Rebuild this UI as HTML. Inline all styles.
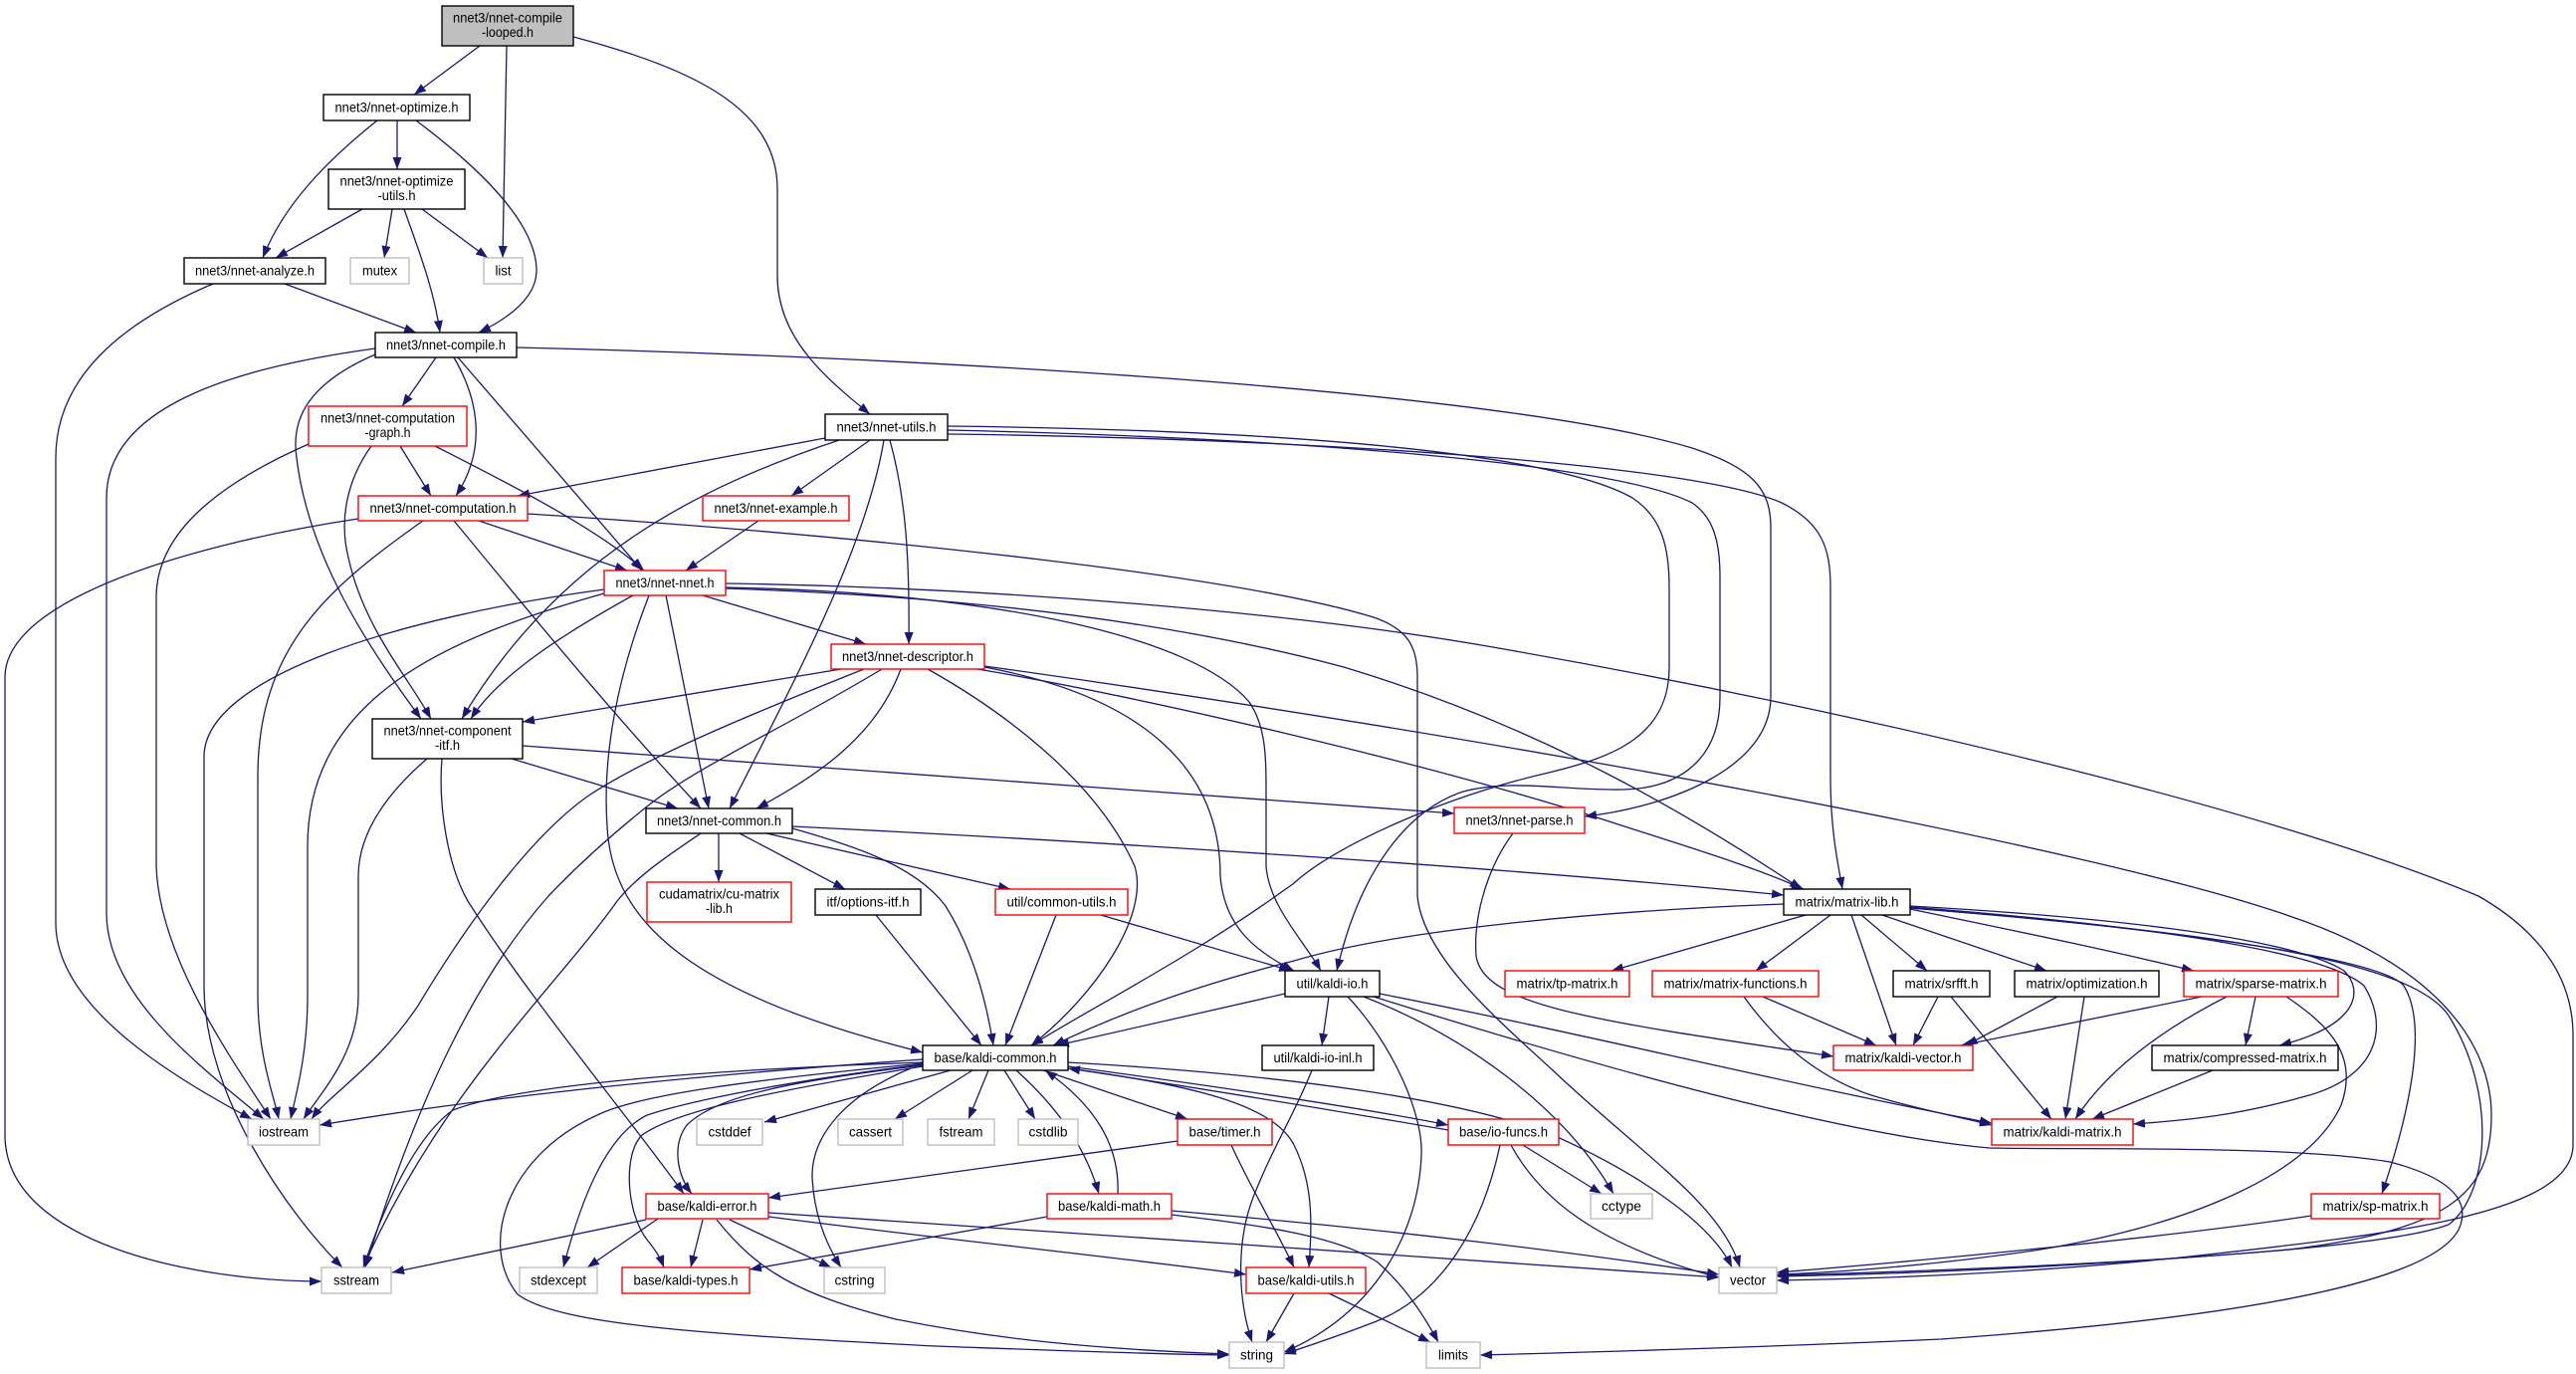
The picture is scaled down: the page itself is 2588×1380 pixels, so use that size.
<!DOCTYPE html>
<html><head><meta charset="utf-8"><title>nnet-compile-looped.h include graph</title>
<style>
html,body{margin:0;padding:0;background:#fff;}
svg{display:block;}
text{font-family:"Liberation Sans",Helvetica,Arial,sans-serif;font-size:14px;fill:#000;}
.e{fill:none;stroke:#191970;stroke-width:1.3;marker-end:url(#ah);}
.nb{fill:#fff;stroke:#000;stroke-width:1.4;}
.nr{fill:#fff;stroke:#ff0000;stroke-width:1.4;}
.ng{fill:#fff;stroke:#bfbfbf;stroke-width:1.4;}
.nroot{fill:#bfbfbf;stroke:#000;stroke-width:1.4;}
</style></head>
<body>
<svg width="2588" height="1380" viewBox="0 0 2588 1380" xmlns="http://www.w3.org/2000/svg">
<defs>
<marker id="ah" viewBox="0 0 12 9" refX="12" refY="4.5" markerWidth="12" markerHeight="9" markerUnits="userSpaceOnUse" orient="auto">
<path d="M0,0 L12,4.5 L0,9 z" fill="#191970"/>
</marker>
</defs>
<rect x="0" y="0" width="2588" height="1380" fill="#fff"/>

<!-- EDGES -->
<g>
<path class="e" d="M482,46 L416,95"/>
<path class="e" d="M509,46 L505,259"/>
<path class="e" d="M576,37 C700,70 781,110 781,190 L781,277 C781,340 830,380 874,416"/>
<path class="e" d="M399,121 L399,170"/>
<path class="e" d="M379,121 C330,160 285,205 264,259"/>
<path class="e" d="M418,121 C470,160 540,220 539,273 C538,300 510,320 481,334"/>
<path class="e" d="M364,210 L277,259"/>
<path class="e" d="M394,210 L386,259"/>
<path class="e" d="M424,210 L490,259"/>
<path class="e" d="M406,210 C420,250 436,290 442,334"/>
<path class="e" d="M286,285 L418,334"/>
<path class="e" d="M214,285 C120,325 56,380 56,460 L56,927 C56,1010 170,1080 253,1124"/>
<path class="e" d="M438,359 L404,408"/>
<path class="e" d="M456,359 C480,400 490,450 458,498"/>
<path class="e" d="M460,359 L645,573"/>
<path class="e" d="M377,356 C310,385 292,420 298,460 C310,560 370,650 423,722"/>
<path class="e" d="M377,350 C230,370 107,410 107,500 L107,917 C107,1000 200,1070 265,1124"/>
<path class="e" d="M519,349 C900,358 1500,390 1700,450 C1760,470 1779,490 1779,530 L1779,700 C1779,770 1680,810 1592,820"/>
<path class="e" d="M402,448 L433,498"/>
<path class="e" d="M437,448 C500,480 600,530 647,573"/>
<path class="e" d="M373,448 C350,480 340,520 350,560 C365,630 410,680 433,722"/>
<path class="e" d="M310,446 C210,490 157,540 157,600 L157,870 C160,960 230,1060 272,1124"/>
<path class="e" d="M829,440 L520,498"/>
<path class="e" d="M843,442 C700,490 560,560 464,722"/>
<path class="e" d="M874,442 L795,498"/>
<path class="e" d="M888,442 C870,550 800,680 733,812"/>
<path class="e" d="M894,442 C910,500 914,560 913,647"/>
<path class="e" d="M952,428 C1300,432 1560,455 1640,500 C1670,520 1677,550 1677,590 L1677,670 C1677,740 1620,760 1560,775 C1450,800 1340,850 1300,887 C1200,960 1100,1010 1036,1050"/>
<path class="e" d="M952,432 C1300,440 1620,465 1700,505 C1722,520 1728,545 1728,580 L1728,700 C1728,760 1690,792 1630,793 C1570,794 1520,782 1470,795 C1410,815 1365,880 1343,975"/>
<path class="e" d="M952,436 C1300,440 1700,465 1790,505 C1830,525 1839,550 1839,590 L1839,780 C1839,830 1845,860 1851,893"/>
<path class="e" d="M481,523 L630,573"/>
<path class="e" d="M456,523 C520,600 600,700 704,812"/>
<path class="e" d="M425,523 C330,590 259,650 259,780 L259,1000 C259,1060 275,1100 280,1124"/>
<path class="e" d="M360,521 C200,545 5,600 5,680 L5,1140 C5,1250 200,1287 323,1287"/>
<path class="e" d="M530,516 C900,540 1250,580 1380,620 C1415,632 1424,650 1424,680 L1424,900 C1430,960 1500,1020 1560,1075 C1650,1160 1730,1210 1748,1273"/>
<path class="e" d="M762,523 L689,573"/>
<path class="e" d="M706,598 L870,647"/>
<path class="e" d="M669,598 L712,812"/>
<path class="e" d="M636,598 C560,640 500,680 473,722"/>
<path class="e" d="M607,596 C450,640 309,700 309,850 L309,1000 C309,1060 297,1100 292,1124"/>
<path class="e" d="M607,592 C400,620 205,680 205,760 L205,990 C205,1100 290,1220 344,1273"/>
<path class="e" d="M652,598 C620,680 605,760 610,830 C615,930 700,1000 927,1057"/>
<path class="e" d="M729,590 C1000,595 1200,640 1255,705 C1272,730 1272,760 1272,800 L1272,870 C1275,910 1310,945 1327,975"/>
<path class="e" d="M729,591 C1000,600 1200,630 1350,670 C1550,730 1700,820 1810,893"/>
<path class="e" d="M729,586 C1000,590 1300,615 1500,650 C1900,720 2300,820 2490,900 C2560,940 2585,990 2585,1040 L2585,1150 C2585,1220 2400,1240 2200,1262 C2050,1278 1900,1284 1785,1286"/>
<path class="e" d="M845,672 L525,725"/>
<path class="e" d="M868,672 C760,715 650,760 590,800 C520,850 450,960 420,1010 C380,1070 330,1100 313,1124"/>
<path class="e" d="M886,672 C790,730 700,770 650,810 C600,850 570,880 551,900 C480,980 420,1100 367,1273"/>
<path class="e" d="M905,672 C880,740 820,780 760,812"/>
<path class="e" d="M932,672 C1000,710 1100,780 1140,870 C1155,920 1100,1000 1036,1050"/>
<path class="e" d="M989,670 C1150,700 1226,773 1226,880 C1230,930 1260,955 1300,975"/>
<path class="e" d="M982,672 C1150,700 1450,770 1632,830 C1700,852 1760,870 1812,893"/>
<path class="e" d="M989,669 C1500,740 2100,850 2300,920 C2450,970 2503,1050 2503,1120 C2503,1200 2460,1235 2300,1255 C2100,1272 1900,1280 1785,1282"/>
<path class="e" d="M514,762 L681,812"/>
<path class="e" d="M525,749 C900,775 1200,800 1461,817"/>
<path class="e" d="M429,762 C385,800 360,840 360,880 L360,1000 C360,1060 320,1100 305,1124"/>
<path class="e" d="M444,762 C440,810 450,870 470,905 C530,1000 630,1120 687,1199"/>
<path class="e" d="M722,837 L722,886"/>
<path class="e" d="M743,837 L849,893"/>
<path class="e" d="M770,837 L1015,893"/>
<path class="e" d="M796,830 C1100,845 1500,870 1792,899"/>
<path class="e" d="M796,832 C860,850 920,870 950,910 C975,950 990,1000 998,1050"/>
<path class="e" d="M704,837 C670,860 640,880 620,905 C560,990 440,1100 365,1273"/>
<path class="e" d="M880,919 L986,1050"/>
<path class="e" d="M1061,919 L1010,1050"/>
<path class="e" d="M1106,919 L1297,975"/>
<path class="e" d="M1520,837 C1495,870 1480,920 1483,960 C1490,1010 1600,1025 1842,1061"/>
<path class="e" d="M1792,908 C1600,915 1400,935 1300,965 C1200,990 1120,1020 1058,1050"/>
<path class="e" d="M1814,919 L1619,975"/>
<path class="e" d="M1839,919 L1764,975"/>
<path class="e" d="M1860,919 L1905,1050"/>
<path class="e" d="M1870,919 L1936,975"/>
<path class="e" d="M1891,919 L2056,975"/>
<path class="e" d="M1919,913 C2000,930 2100,950 2204,975"/>
<path class="e" d="M1919,910 C2100,920 2300,940 2355,975 C2375,995 2370,1030 2290,1050"/>
<path class="e" d="M1919,911 C2100,925 2330,950 2375,990 C2400,1030 2390,1080 2320,1100 C2250,1120 2200,1125 2143,1129"/>
<path class="e" d="M1919,912 C2150,930 2390,960 2415,990 C2440,1030 2420,1120 2393,1199"/>
<path class="e" d="M1919,912 C2200,935 2420,960 2460,1020 C2510,1100 2500,1200 2460,1230 C2380,1260 2000,1275 1785,1281"/>
<path class="e" d="M1771,1001 L1885,1050"/>
<path class="e" d="M1752,1001 C1780,1040 1820,1080 1880,1100 C1930,1115 1970,1122 2001,1130"/>
<path class="e" d="M1947,1001 L1922,1050"/>
<path class="e" d="M1960,1001 L2061,1124"/>
<path class="e" d="M2067,1001 L1975,1050"/>
<path class="e" d="M2094,1001 L2075,1124"/>
<path class="e" d="M2212,1001 L1970,1050"/>
<path class="e" d="M2237,1001 C2180,1030 2120,1070 2085,1124"/>
<path class="e" d="M2266,1001 L2256,1050"/>
<path class="e" d="M2297,1001 C2340,1030 2370,1060 2352,1110 C2320,1180 2200,1230 2050,1255 C1950,1270 1850,1278 1785,1280"/>
<path class="e" d="M2223,1075 L2102,1124"/>
<path class="e" d="M2322,1221 C2200,1240 1950,1265 1785,1278"/>
<path class="e" d="M955,1075 L768,1127"/>
<path class="e" d="M977,1075 L899,1124"/>
<path class="e" d="M993,1075 L973,1124"/>
<path class="e" d="M1009,1075 L1040,1124"/>
<path class="e" d="M1048,1075 L1193,1124"/>
<path class="e" d="M1021,1075 C1060,1110 1090,1150 1104,1199"/>
<path class="e" d="M1123,1199 C1125,1150 1100,1110 1050,1075"/>
<path class="e" d="M915,1073 C850,1100 815,1140 816,1183 C818,1220 830,1250 845,1273"/>
<path class="e" d="M927,1070 C800,1085 720,1100 690,1130 C675,1150 680,1180 695,1199"/>
<path class="e" d="M927,1064 C700,1080 500,1100 321,1130"/>
<path class="e" d="M927,1067 C700,1075 520,1090 455,1115 C420,1140 390,1200 365,1273"/>
<path class="e" d="M927,1068 C750,1085 640,1100 600,1120 C510,1160 480,1250 520,1300 C560,1330 700,1340 940,1352 C1050,1356 1150,1360 1235,1361"/>
<path class="e" d="M927,1069 C760,1090 680,1110 650,1120 C610,1140 585,1200 566,1273"/>
<path class="e" d="M927,1071 C780,1095 680,1115 645,1140 C625,1160 630,1220 650,1245 C658,1255 663,1262 667,1273"/>
<path class="e" d="M1073,1067 C1300,1080 1470,1105 1560,1140 C1650,1180 1720,1230 1740,1273"/>
<path class="e" d="M1073,1071 C1250,1095 1380,1115 1455,1130"/>
<path class="e" d="M1455,1135 C1350,1117 1200,1092 1073,1073"/>
<path class="e" d="M1073,1073 C1200,1090 1280,1110 1300,1150 C1320,1190 1318,1230 1315,1273"/>
<path class="e" d="M1183,1146 L772,1203"/>
<path class="e" d="M1237,1150 C1260,1200 1285,1240 1300,1273"/>
<path class="e" d="M1530,1150 L1609,1199"/>
<path class="e" d="M1518,1150 C1545,1200 1600,1250 1727,1283"/>
<path class="e" d="M1507,1150 C1490,1230 1450,1300 1383,1327 C1350,1340 1320,1350 1290,1360"/>
<path class="e" d="M1291,998 L1062,1050"/>
<path class="e" d="M1335,1001 L1328,1050"/>
<path class="e" d="M1354,1001 C1400,1050 1430,1120 1428,1160 C1425,1240 1380,1320 1290,1358"/>
<path class="e" d="M1370,1001 C1470,1040 1570,1110 1621,1199"/>
<path class="e" d="M1386,998 C1600,1040 1800,1090 2001,1128"/>
<path class="e" d="M1380,1001 C1600,1070 1850,1140 1999,1153 C2100,1155 2300,1150 2401,1167 C2470,1185 2480,1210 2471,1233 C2450,1280 2300,1320 1950,1345 C1800,1352 1600,1358 1487,1361"/>
<path class="e" d="M1318,1075 C1300,1120 1280,1150 1260,1200 C1240,1250 1245,1310 1258,1348"/>
<path class="e" d="M649,1225 L394,1278"/>
<path class="e" d="M661,1224 L590,1273"/>
<path class="e" d="M706,1225 L694,1273"/>
<path class="e" d="M733,1225 L835,1273"/>
<path class="e" d="M720,1225 C760,1275 800,1300 900,1325 C1000,1345 1100,1355 1235,1360"/>
<path class="e" d="M772,1222 C950,1245 1100,1260 1252,1280"/>
<path class="e" d="M772,1218 C1100,1240 1400,1260 1727,1283"/>
<path class="e" d="M1052,1222 L753,1275"/>
<path class="e" d="M1177,1216 C1400,1235 1600,1260 1727,1280"/>
<path class="e" d="M1177,1220 C1260,1230 1340,1240 1383,1267 C1410,1290 1430,1320 1445,1348"/>
<path class="e" d="M1300,1299 L1272,1348"/>
<path class="e" d="M1335,1299 L1437,1348"/>
</g>

<!-- NODES -->
<g>
<rect class="nroot" x="444" y="6" width="132" height="40"/>
<text x="510" y="22.5" text-anchor="middle" textLength="110" lengthAdjust="spacingAndGlyphs">nnet3/nnet-compile</text>
<text x="510" y="37" text-anchor="middle" textLength="52" lengthAdjust="spacingAndGlyphs">-looped.h</text>

<rect class="nb" x="325" y="95" width="147" height="26"/>
<text x="398.5" y="112.5" text-anchor="middle" textLength="124" lengthAdjust="spacingAndGlyphs">nnet3/nnet-optimize.h</text>

<rect class="nb" x="330" y="170" width="137" height="40"/>
<text x="398.5" y="186.5" text-anchor="middle" textLength="114" lengthAdjust="spacingAndGlyphs">nnet3/nnet-optimize</text>
<text x="398.5" y="201" text-anchor="middle" textLength="38" lengthAdjust="spacingAndGlyphs">-utils.h</text>

<rect class="nb" x="185" y="259" width="142" height="26"/>
<text x="256" y="276.5" text-anchor="middle" textLength="120" lengthAdjust="spacingAndGlyphs">nnet3/nnet-analyze.h</text>

<rect class="ng" x="352" y="259" width="59" height="26"/>
<text x="381.5" y="276.5" text-anchor="middle" textLength="35" lengthAdjust="spacingAndGlyphs">mutex</text>

<rect class="ng" x="486" y="259" width="39" height="26"/>
<text x="505.5" y="276.5" text-anchor="middle" textLength="16" lengthAdjust="spacingAndGlyphs">list</text>

<rect class="nb" x="377" y="334" width="142" height="25"/>
<text x="448" y="351" text-anchor="middle" textLength="120" lengthAdjust="spacingAndGlyphs">nnet3/nnet-compile.h</text>

<rect class="nr" x="310" y="408" width="159" height="40"/>
<text x="389.5" y="424.5" text-anchor="middle" textLength="135" lengthAdjust="spacingAndGlyphs">nnet3/nnet-computation</text>
<text x="389.5" y="439" text-anchor="middle" textLength="46" lengthAdjust="spacingAndGlyphs">-graph.h</text>

<rect class="nb" x="829" y="416" width="123" height="26"/>
<text x="890.5" y="433.5" text-anchor="middle" textLength="100" lengthAdjust="spacingAndGlyphs">nnet3/nnet-utils.h</text>

<rect class="nr" x="360" y="498" width="170" height="25"/>
<text x="445" y="515" text-anchor="middle" textLength="147" lengthAdjust="spacingAndGlyphs">nnet3/nnet-computation.h</text>

<rect class="nr" x="706" y="498" width="147" height="25"/>
<text x="779.5" y="515" text-anchor="middle" textLength="124" lengthAdjust="spacingAndGlyphs">nnet3/nnet-example.h</text>

<rect class="nr" x="607" y="573" width="122" height="25"/>
<text x="668" y="590" text-anchor="middle" textLength="99" lengthAdjust="spacingAndGlyphs">nnet3/nnet-nnet.h</text>

<rect class="nr" x="835" y="647" width="154" height="25"/>
<text x="912" y="664" text-anchor="middle" textLength="132" lengthAdjust="spacingAndGlyphs">nnet3/nnet-descriptor.h</text>

<rect class="nb" x="374" y="722" width="151" height="40"/>
<text x="449.5" y="738.5" text-anchor="middle" textLength="128" lengthAdjust="spacingAndGlyphs">nnet3/nnet-component</text>
<text x="449.5" y="753" text-anchor="middle" textLength="25" lengthAdjust="spacingAndGlyphs">-itf.h</text>

<rect class="nb" x="649" y="812" width="147" height="25"/>
<text x="722.5" y="829" text-anchor="middle" textLength="125" lengthAdjust="spacingAndGlyphs">nnet3/nnet-common.h</text>

<rect class="nr" x="1461" y="811" width="131" height="26"/>
<text x="1526.5" y="828.5" text-anchor="middle" textLength="108" lengthAdjust="spacingAndGlyphs">nnet3/nnet-parse.h</text>

<rect class="nr" x="650" y="886" width="145" height="40"/>
<text x="722.5" y="902.5" text-anchor="middle" textLength="121" lengthAdjust="spacingAndGlyphs">cudamatrix/cu-matrix</text>
<text x="722.5" y="917" text-anchor="middle" textLength="27" lengthAdjust="spacingAndGlyphs">-lib.h</text>

<rect class="nb" x="819" y="893" width="106" height="26"/>
<text x="872" y="910.5" text-anchor="middle" textLength="83" lengthAdjust="spacingAndGlyphs">itf/options-itf.h</text>

<rect class="nr" x="1000" y="893" width="133" height="26"/>
<text x="1066.5" y="910.5" text-anchor="middle" textLength="110" lengthAdjust="spacingAndGlyphs">util/common-utils.h</text>

<rect class="nb" x="1792" y="893" width="127" height="26"/>
<text x="1855.5" y="910.5" text-anchor="middle" textLength="104" lengthAdjust="spacingAndGlyphs">matrix/matrix-lib.h</text>

<rect class="nb" x="1291" y="975" width="95" height="26"/>
<text x="1338.5" y="992.5" text-anchor="middle" textLength="72" lengthAdjust="spacingAndGlyphs">util/kaldi-io.h</text>

<rect class="nr" x="1512" y="975" width="125" height="26"/>
<text x="1574.5" y="992.5" text-anchor="middle" textLength="102" lengthAdjust="spacingAndGlyphs">matrix/tp-matrix.h</text>

<rect class="nr" x="1660" y="975" width="167" height="26"/>
<text x="1743.5" y="992.5" text-anchor="middle" textLength="144" lengthAdjust="spacingAndGlyphs">matrix/matrix-functions.h</text>

<rect class="nb" x="1902" y="975" width="97" height="26"/>
<text x="1950.5" y="992.5" text-anchor="middle" textLength="74" lengthAdjust="spacingAndGlyphs">matrix/srfft.h</text>

<rect class="nb" x="2024" y="975" width="145" height="26"/>
<text x="2096.5" y="992.5" text-anchor="middle" textLength="122" lengthAdjust="spacingAndGlyphs">matrix/optimization.h</text>

<rect class="nr" x="2194" y="975" width="155" height="26"/>
<text x="2271.5" y="992.5" text-anchor="middle" textLength="132" lengthAdjust="spacingAndGlyphs">matrix/sparse-matrix.h</text>

<rect class="nb" x="927" y="1050" width="146" height="25"/>
<text x="1000" y="1067" text-anchor="middle" textLength="123" lengthAdjust="spacingAndGlyphs">base/kaldi-common.h</text>

<rect class="nb" x="1268" y="1050" width="112" height="25"/>
<text x="1324" y="1067" text-anchor="middle" textLength="89" lengthAdjust="spacingAndGlyphs">util/kaldi-io-inl.h</text>

<rect class="nr" x="1842" y="1050" width="140" height="25"/>
<text x="1912" y="1067" text-anchor="middle" textLength="117" lengthAdjust="spacingAndGlyphs">matrix/kaldi-vector.h</text>

<rect class="nb" x="2162" y="1050" width="187" height="25"/>
<text x="2255.5" y="1067" text-anchor="middle" textLength="164" lengthAdjust="spacingAndGlyphs">matrix/compressed-matrix.h</text>

<rect class="ng" x="249" y="1124" width="72" height="26"/>
<text x="285" y="1141.5" text-anchor="middle" textLength="50" lengthAdjust="spacingAndGlyphs">iostream</text>

<rect class="ng" x="700" y="1124" width="66" height="26"/>
<text x="733" y="1141.5" text-anchor="middle" textLength="43" lengthAdjust="spacingAndGlyphs">cstddef</text>

<rect class="ng" x="842" y="1124" width="65" height="26"/>
<text x="874.5" y="1141.5" text-anchor="middle" textLength="43" lengthAdjust="spacingAndGlyphs">cassert</text>

<rect class="ng" x="932" y="1124" width="67" height="26"/>
<text x="965.5" y="1141.5" text-anchor="middle" textLength="44" lengthAdjust="spacingAndGlyphs">fstream</text>

<rect class="ng" x="1023" y="1124" width="60" height="26"/>
<text x="1053" y="1141.5" text-anchor="middle" textLength="39" lengthAdjust="spacingAndGlyphs">cstdlib</text>

<rect class="nr" x="1183" y="1124" width="95" height="26"/>
<text x="1230.5" y="1141.5" text-anchor="middle" textLength="72" lengthAdjust="spacingAndGlyphs">base/timer.h</text>

<rect class="nr" x="1455" y="1124" width="111" height="26"/>
<text x="1510.5" y="1141.5" text-anchor="middle" textLength="89" lengthAdjust="spacingAndGlyphs">base/io-funcs.h</text>

<rect class="nr" x="2001" y="1124" width="142" height="26"/>
<text x="2072" y="1141.5" text-anchor="middle" textLength="119" lengthAdjust="spacingAndGlyphs">matrix/kaldi-matrix.h</text>

<rect class="nr" x="649" y="1199" width="123" height="25"/>
<text x="710.5" y="1216" text-anchor="middle" textLength="100" lengthAdjust="spacingAndGlyphs">base/kaldi-error.h</text>

<rect class="nr" x="1052" y="1199" width="125" height="25"/>
<text x="1114.5" y="1216" text-anchor="middle" textLength="103" lengthAdjust="spacingAndGlyphs">base/kaldi-math.h</text>

<rect class="ng" x="1598" y="1199" width="62" height="25"/>
<text x="1629" y="1216" text-anchor="middle" textLength="40" lengthAdjust="spacingAndGlyphs">cctype</text>

<rect class="nr" x="2322" y="1199" width="129" height="25"/>
<text x="2386.5" y="1216" text-anchor="middle" textLength="106" lengthAdjust="spacingAndGlyphs">matrix/sp-matrix.h</text>

<rect class="ng" x="323" y="1273" width="70" height="26"/>
<text x="358" y="1290.5" text-anchor="middle" textLength="46" lengthAdjust="spacingAndGlyphs">sstream</text>

<rect class="ng" x="522" y="1273" width="78" height="26"/>
<text x="561" y="1290.5" text-anchor="middle" textLength="56" lengthAdjust="spacingAndGlyphs">stdexcept</text>

<rect class="nr" x="625" y="1273" width="128" height="26"/>
<text x="689" y="1290.5" text-anchor="middle" textLength="105" lengthAdjust="spacingAndGlyphs">base/kaldi-types.h</text>

<rect class="ng" x="828" y="1273" width="61" height="26"/>
<text x="858.5" y="1290.5" text-anchor="middle" textLength="40" lengthAdjust="spacingAndGlyphs">cstring</text>

<rect class="nr" x="1252" y="1273" width="120" height="26"/>
<text x="1312" y="1290.5" text-anchor="middle" textLength="97" lengthAdjust="spacingAndGlyphs">base/kaldi-utils.h</text>

<rect class="ng" x="1727" y="1273" width="58" height="26"/>
<text x="1756" y="1290.5" text-anchor="middle" textLength="36" lengthAdjust="spacingAndGlyphs">vector</text>

<rect class="ng" x="1235" y="1348" width="55" height="26"/>
<text x="1262.5" y="1365.5" text-anchor="middle" textLength="33" lengthAdjust="spacingAndGlyphs">string</text>

<rect class="ng" x="1433" y="1348" width="54" height="26"/>
<text x="1460" y="1365.5" text-anchor="middle" textLength="30" lengthAdjust="spacingAndGlyphs">limits</text>
</g>
</svg>
</body></html>
